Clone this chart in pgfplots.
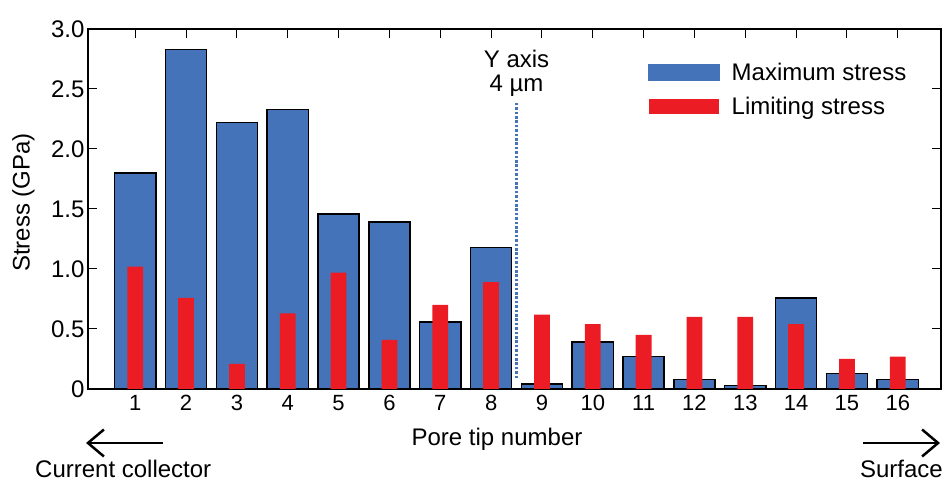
\documentclass[border=0pt]{standalone}
\usepackage{fontspec}
\setmainfont{Liberation Sans}
\usepackage{pgfplots}
\pgfplotsset{compat=1.18}
\usetikzlibrary{arrows.meta}
\definecolor{barblue}{RGB}{68,115,185}
\definecolor{barred}{RGB}{236,28,36}
\begin{document}
\begin{tikzpicture}
\path[use as bounding box] (0,0) rectangle (946pt,482pt);
\begin{axis}[
  at={(88pt,93pt)}, anchor=south west,
  scale only axis, width=853pt, height=360pt,
  xmin=0.07, xmax=16.85, ymin=0, ymax=3,
  xtick={1,...,16}, ytick={0,0.5,1,1.5,2,2.5,3},
  yticklabels={0,0.5,1.0,1.5,2.0,2.5,3.0},
  xtick pos=right, xticklabel pos=left,
  ytick pos=both, yticklabel pos=left,
  tick align=inside,
  major tick length=9pt,
  tick style={line width=1pt, black},
  axis line style={line width=1.1pt},
  /pgf/number format/assume math mode=true,
  x tick label style={font=\fontsize{22}{26}\selectfont, yshift=-3pt},
  y tick label style={font=\fontsize{24}{28}\selectfont},
  xlabel={Pore tip number},
  xlabel style={font=\fontsize{24}{28}\selectfont, at={(rel axis cs:0.4795,-0.1556)}, anchor=base},
  ylabel={Stress (GPa)},
  ylabel style={font=\fontsize{24}{28}\selectfont, at={(rel axis cs:-0.0756,0.518)}, anchor=center, rotate=0},
  legend style={at={(rel axis cs:0.6565,0.9056)}, anchor=north west, draw=none, fill=none,
    inner sep=0pt, font=\fontsize{24}{28}\selectfont, nodes={inner sep=0pt},
    column sep=12pt, row sep=15pt},
  legend cell align=left,
  clip=false,
]
\addplot[ybar, bar width=0.81, bar shift=0pt, fill=barblue, draw=black, line width=1.5pt,
  legend image code/.code={\fill[barblue] (0pt,-7.5pt) rectangle (70pt,7.5pt);}]
  coordinates {(1,1.80) (2,2.83) (3,2.22) (4,2.33) (5,1.46) (6,1.39) (7,0.56) (8,1.18)
   (9,0.04) (10,0.39) (11,0.27) (12,0.08) (13,0.03) (14,0.76) (15,0.13) (16,0.08)};
\addlegendentry{Maximum stress}
\addplot[ybar, bar width=0.31, bar shift=0pt, fill=barred, draw=none,
  legend image code/.code={\fill[barred] (0pt,-7.5pt) rectangle (70pt,7.5pt);}]
  coordinates {(1,1.02) (2,0.76) (3,0.21) (4,0.63) (5,0.97) (6,0.41) (7,0.70) (8,0.89)
   (9,0.62) (10,0.54) (11,0.45) (12,0.60) (13,0.60) (14,0.54) (15,0.25) (16,0.27)};
\addlegendentry{Limiting stress}
\addplot[forget plot, barblue, line width=3.5pt, dash pattern=on 2.6pt off 1.8pt]
  coordinates {(8.5,0.09) (8.5,2.39)};
\node[anchor=base, font=\fontsize{24}{28}\selectfont] at (axis cs:8.5,2.675) {Y axis};
\node[anchor=base, font=\fontsize{24}{28}\selectfont] at (axis cs:8.5,2.475) {4 µm};
\end{axis}
\draw[line width=2.5pt, -{Straight Barb[length=16pt,width=27pt,line width=2.5pt]}] (163pt,39pt) -- (86pt,39pt);
\draw[line width=2.5pt, -{Straight Barb[length=16pt,width=27pt,line width=2.5pt]}] (863pt,39pt) -- (940pt,39pt);
\node[anchor=base west, inner sep=0pt, font=\fontsize{24}{28}\selectfont] at (35pt,4pt) {Current collector};
\node[anchor=base east, inner sep=0pt, font=\fontsize{24}{28}\selectfont] at (943pt,4pt) {Surface};
\end{tikzpicture}
\end{document}
